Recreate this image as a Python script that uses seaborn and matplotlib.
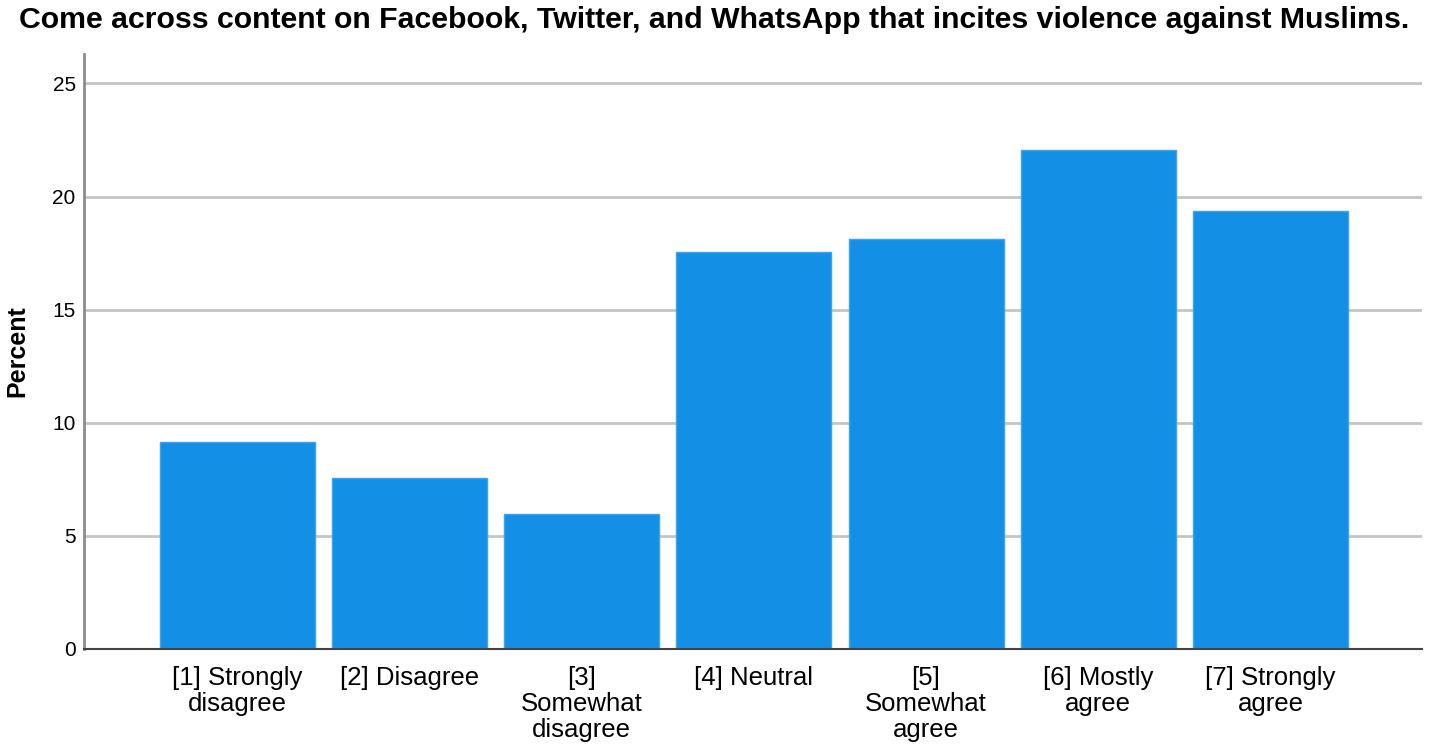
import matplotlib
matplotlib.use("Agg")
import matplotlib.pyplot as plt
import seaborn as sns
import pandas as pd

categories = ["[1] Strongly\ndisagree", "[2] Disagree", "[3]\nSomewhat\ndisagree",
              "[4] Neutral", "[5]\nSomewhat\nagree", "[6] Mostly\nagree", "[7] Strongly\nagree"]
percent = [9.16, 7.57, 5.97, 17.54, 18.12, 22.05, 19.35]
yticks = [0, 5, 10, 15, 20, 25]

title = "Come across content on Facebook, Twitter, and WhatsApp that incites violence against Muslims."

sns.set_theme(style="white")
plt.rcParams['font.family'] = ['Liberation Sans', 'DejaVu Sans']
plt.rcParams['text.color'] = 'black'
plt.rcParams['xtick.color'] = 'black'
plt.rcParams['ytick.color'] = 'black'
plt.rcParams['axes.labelcolor'] = 'black'

W, H = 1429, 753
fig = plt.figure(figsize=(W / 100, H / 100), dpi=100)
ax = fig.add_axes([84 / W, 1 - 649 / H, (1422 - 84) / W, (649 - 54) / H])

df = pd.DataFrame({"cat": categories, "pct": percent})
sns.barplot(data=df, x="cat", y="pct", color="#1390E6", saturation=1, width=0.9,
            edgecolor="#3FA3EC", linewidth=1, ax=ax, zorder=3)

ax.set_xlim(-0.89, 6.88)
ax.set_ylim(0, 26.3)
ax.set_yticks(yticks)
ax.set_yticklabels([str(t) for t in yticks], fontsize=15)
ax.yaxis.grid(True, color="#C4C4C4", linewidth=2, zorder=0)
ax.set_axisbelow(True)
ax.tick_params(axis="both", length=0)
ax.tick_params(axis="y", pad=6)
ax.tick_params(axis="x", pad=12)
for lab in ax.get_xticklabels():
    lab.set_fontsize(18.5)
    lab.set_linespacing(1.12)
    lab.set_verticalalignment("top")

for s in ["top", "right"]:
    ax.spines[s].set_visible(False)
ax.spines["left"].set_color("#8C8C8C")
ax.spines["left"].set_linewidth(2)
ax.spines["bottom"].set_color("#444444")
ax.spines["bottom"].set_linewidth(1.5)
ax.spines["bottom"].set_zorder(4)

ax.set_xlabel("")
ax.set_ylabel("Percent", fontsize=18, fontweight="bold")
ax.yaxis.set_label_coords(-0.0405, 0.5)

fig.text(0.5, 1 - 20 / H, title, ha="center", va="center", fontsize=21.8, fontweight="bold")

fig.savefig("out.png", dpi=100, facecolor="white")
